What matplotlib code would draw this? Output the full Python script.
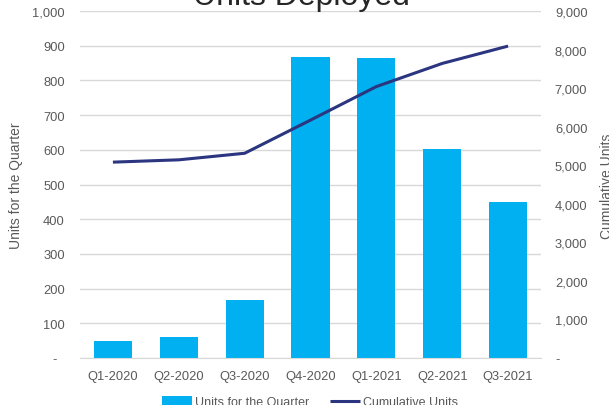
import matplotlib.pyplot as plt
from matplotlib.ticker import FuncFormatter, MultipleLocator

plt.rcParams['font.family'] = ['Liberation Sans', 'DejaVu Sans']

quarters = ['Q1-2020', 'Q2-2020', 'Q3-2020', 'Q4-2020', 'Q1-2021', 'Q2-2021', 'Q3-2021']
units_quarter = [50, 60, 168, 867, 864, 602, 450]
units_cumulative = [5080, 5140, 5310, 6170, 7040, 7640, 8090]

bar_color = '#00B0F0'
line_color = '#2B3580'
text_gray = '#595959'
grid_gray = '#D9D9D9'


def dash_left(v, pos):
    # excel accounting style: zero shown as a dash
    if abs(v) < 1e-9:
        return '-  '
    return f'{v:,.0f}'


def dash_right(v, pos):
    if abs(v) < 1e-9:
        return '-'
    return f'{v:,.0f}'


fig = plt.figure(figsize=(6.09, 4.06), dpi=100)
ax1 = fig.add_axes([80 / 609, 1 - 359 / 406, 461 / 609, 347 / 406])
ax2 = ax1.twinx()

x = range(len(quarters))
bars = ax1.bar(x, units_quarter, width=0.58, color=bar_color, label='Units for the Quarter', zorder=2)
line, = ax2.plot(x, units_cumulative, color=line_color, linewidth=2.2, label='Cumulative Units',
                 solid_capstyle='butt')

ax1.set_xlim(-0.5, len(quarters) - 0.5)
ax1.set_ylim(0, 1000)
ax2.set_ylim(0, 9000)
ax1.yaxis.set_major_locator(MultipleLocator(100))
ax2.yaxis.set_major_locator(MultipleLocator(1000))
ax1.yaxis.set_major_formatter(FuncFormatter(dash_left))
ax2.yaxis.set_major_formatter(FuncFormatter(dash_right))
ax1.set_xticks(list(x))
ax1.set_xticklabels(quarters)

ax1.grid(axis='y', color=grid_gray, linewidth=1, zorder=0)
ax1.set_axisbelow(True)
for ax in (ax1, ax2):
    for s in ax.spines.values():
        s.set_visible(False)
ax1.spines['bottom'].set_visible(True)
ax1.spines['bottom'].set_color(grid_gray)

ax1.tick_params(axis='y', length=0, pad=11, labelsize=9.3, labelcolor=text_gray)
ax2.tick_params(axis='y', length=0, pad=10, labelsize=9.3, labelcolor=text_gray)
ax1.tick_params(axis='x', length=0, pad=9, labelsize=9.3, labelcolor=text_gray)

fig.text(16 / 609, 1 - 186 / 406, 'Units for the Quarter', rotation=90, ha='center', va='center',
         fontsize=10, color=text_gray)
fig.text(607 / 609, 1 - 186 / 406, 'Cumulative Units', rotation=90, ha='center', va='center',
         fontsize=10, color=text_gray)

fig.text(301 / 609, 1 - 5 / 406, 'Units Deployed', ha='center', va='baseline',
         fontsize=23, color='#262626')

fig.legend(handles=[bars, line], loc='center', bbox_to_anchor=(310 / 609, 1 - 403 / 406),
           ncol=2, frameon=False, fontsize=9, labelcolor=text_gray,
           handlelength=2.4, handleheight=0.9, columnspacing=1.6, handletextpad=0.3)

fig.savefig('out.png', dpi=100)
